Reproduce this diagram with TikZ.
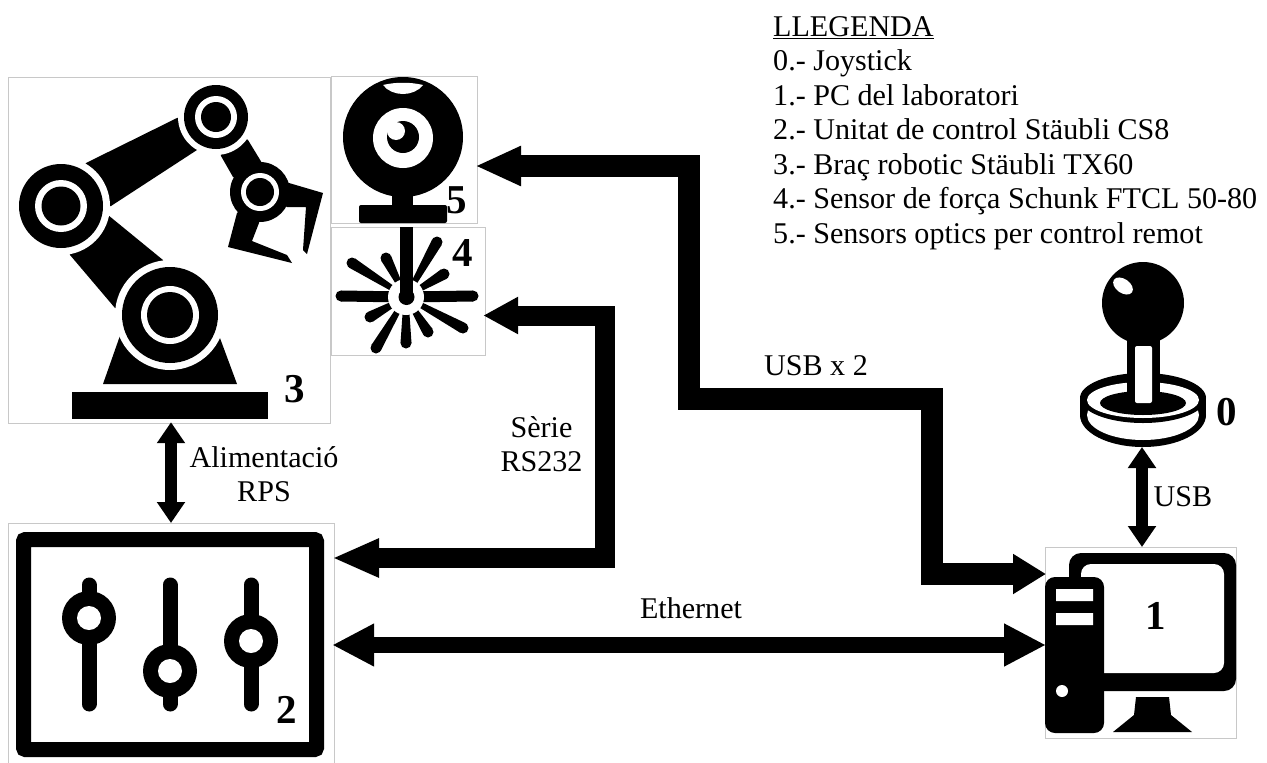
\documentclass[tikz,border=0pt]{standalone}
\usepackage{fontspec}
\setmainfont{Liberation Serif}
\usetikzlibrary{arrows.meta}
\definecolor{boxgrey}{HTML}{C8C8C8}
\tikzset{
  panel/.style={draw=boxgrey,line width=1.2pt,minimum width=#1,inner sep=0pt,anchor=north west},
  lbl/.style={font=\fontsize{30.1}{34.5}\selectfont,align=center,inner sep=0pt},
  num/.style={font=\fontsize{41}{41}\selectfont\bfseries,inner sep=0pt},
  thin link/.style={line width=12pt,{Triangle[width=27pt,length=21pt]}-{Triangle[width=27pt,length=21pt]}},
  usb link/.style={line width=22pt,miter limit=10,{Triangle[width=37pt,length=46pt]}-{Triangle[width=38pt,length=33pt]}},
  serial link/.style={line width=20pt,miter limit=10,{Triangle[width=35pt,length=35pt]}-{Triangle[width=36pt,length=47pt]}},
  eth link/.style={line width=16pt,{Triangle[width=40pt,length=42pt]}-{Triangle[width=40pt,length=42pt]}}
}
\begin{document}
\begin{tikzpicture}[x=1pt,y=-1pt]
\useasboundingbox (0,0) rectangle (1267,763);
% panels
\node[panel=322pt,minimum height=346pt] (b3) at (8,77) {};
\node[panel=146pt,minimum height=147pt] (b5) at (331,76) {};
\node[panel=154pt,minimum height=128pt] (b4) at (331,227) {};
\node[panel=326pt,minimum height=245pt] (b2) at (8,523) {};
\node[panel=191pt,minimum height=191pt] (b1) at (1045,547) {};
\coordinate (j0) at (1142,447);
% robot
\fill (72,392) rectangle (268,419);
\fill (103,384) -- (237,384) -- (217,330) -- (122,330) -- cycle;
\fill (108,215) -- (163,260) -- (170,315) -- (115,308) -- (70,255) -- (61,206) -- cycle;
\fill (86,163) -- (177,118) -- (216,117) -- (197,150) -- (111,206) -- (61,206) -- cycle;
\fill (248,140) -- (262,163) -- (260,192) -- (233,177) -- (221,156) -- (216,117) -- cycle;
\fill (289,183) -- (323,193) -- (307,254) -- (303,250) -- (306,207) -- (287,207) -- (260,192) -- cycle;
\fill (237,213) -- (228,247) -- (292,263) -- (287,255) -- (252,241) -- (259,223) -- (260,192) -- cycle;
\fill[white] (170,315) circle (55pt) (61,206) circle (49pt) (216,117) circle (38pt);
\foreach \cx/\cy/\ra/\rb/\rc in {170/315/48/29/23, 61/206/42/26/19.5, 216/117/32/21/15, 260/192/30/19/14}{
  \fill (\cx,\cy) circle (\ra pt);
  \fill[white] (\cx,\cy) circle (\rb pt);
  \fill (\cx,\cy) circle (\rc pt);
}
% webcam
\fill (403,137) circle (60pt);
\fill[white] (383,85) .. controls (395,82) and (411,82) .. (423,85) .. controls (414,97) and (392,97) .. (383,85) -- cycle;
\fill[white] (403,138) circle (30pt);
\fill (403,137) circle (16pt);
\fill[white] (396,131) circle (9pt);
\fill (392,185) rectangle (413,210);
\fill[rounded corners=2pt] (359,223) -- (359,205) -- (447,205) -- (447,223) -- cycle;
% laser
\foreach \ox/\oy/\hw in {341/296/5.5, 473/296/5.5, 352/263/2.5, 386/258/2.5, 437/242/2.5, 444/274/2.5, 463/328/2.5, 370/317/2.5, 376/348/2.5, 406/343/3, 428/332/2.5}{
  \pgfmathsetmacro{\dx}{\ox-406}
  \pgfmathsetmacro{\dy}{\oy-297}
  \pgfmathsetmacro{\len}{sqrt(\dx*\dx+\dy*\dy)}
  \pgfmathsetmacro{\ux}{\dx/\len}
  \pgfmathsetmacro{\uy}{\dy/\len}
  \fill ({406+10*\ux-\hw*\uy},{297+10*\uy+\hw*\ux}) -- ({\ox-5.5*\uy},{\oy+5.5*\ux}) -- ({\ox+5.5*\uy},{\oy-5.5*\ux}) -- ({406+10*\ux+\hw*\uy},{297+10*\uy-\hw*\ux}) -- cycle;
  \fill (\ox,\oy) circle (5.5pt);
}
\fill[white] (406,297) circle (18pt);
\fill (400,227) rectangle (413,297);
\fill (406.5,297) circle (8pt);
% mixer
\draw[line width=15pt,rounded corners=2pt] (23.5,539.5) rectangle (316.5,749.5);
\foreach \sx/\ky in {89/618,170/671,251/641}{
  \draw[line width=15pt,line cap=round] (\sx,585) -- (\sx,704);
  \fill (\sx,\ky) circle (27pt);
  \fill[white] (\sx,\ky) circle (12pt);
}
% joystick
\fill (1143,415) ellipse (63pt and 32pt);
\fill (1080,398) rectangle (1206,415);
\fill[white] (1143,415) ellipse (56pt and 25pt);
\fill (1143,398) ellipse (63pt and 25pt);
\fill[white] (1143,400) ellipse (56pt and 18pt);
\fill (1143,403) ellipse (43pt and 12pt);
\fill (1127,330) rectangle (1160,400);
\fill (1143,303) circle (41pt);
\fill[white,rotate around={-35:(1123,286)}] (1123,286) ellipse (11pt and 7pt);
\fill[white,rounded corners=2pt] (1135,346) rectangle (1152,403);
% pc
\fill[rounded corners=12pt] (1069,553) rectangle (1236,691);
\fill[white,rounded corners=10pt] (1081,564) rectangle (1224,673);
\fill[rounded corners=10pt] (1045,577) rectangle (1104,733);
\fill[white] (1056,589) rectangle (1093,601) (1056,613) rectangle (1093,625);
\fill[white] (1062,691) circle (6pt);
\fill (1113,732) -- (1192,732) -- (1171,715) -- (1169,697) -- (1136,697) -- (1134,715) -- cycle;
% numbers
\node[num] (n0) at (1227,412) {0};
\node[num] (n1) at (1156,616) {1};
\node[num] (n2) at (287,710) {2};
\node[num] (n3) at (295,389) {3};
\node[num] (n4) at (463,253) {4};
\node[num] (n5) at (457,200) {5};
% connectors
\draw[usb link] ([xshift=-3pt]b5.east |- 0,166) -- (688.5,166) -- (688.5,399) -- (932,399) -- (932,574) -- ([xshift=1pt]b1.west |- 0,574);
\draw[serial link] ([xshift=-3pt]b4.east |- 0,315.5) -- (605,315.5) -- (605,558) -- ([xshift=-3pt]b2.east |- 0,558);
\draw[eth link] ([xshift=-3pt]b2.east |- 0,645) -- ([xshift=1pt]b1.west |- 0,645);
\draw[thin link] ([yshift=2pt]b3.south -| 171,0) -- (b2.north -| 171,0);
\draw[thin link] (j0) -- (b1.north -| j0);
% labels
\node[lbl] (l1) at (816,366) {USB x 2};
\node[lbl] (l2) at (541.5,444) {Sèrie\\RS232};
\node[lbl] (l3) at (264,474) {Alimentació\\RPS};
\node[lbl] (l4) at (691,608) {Ethernet};
\node[lbl] (l5) at (1183,497) {USB};
\node[lbl,align=left,anchor=north west] (leg) at (773,16) {\underline{LLEGENDA}\\0.- Joystick\\1.- PC del laboratori\\2.- Unitat de control Stäubli CS8\\3.- Braç robotic Stäubli TX60\\4.- Sensor de força Schunk FTCL 50-80\\5.- Sensors optics per control remot};
\end{tikzpicture}
\end{document}
